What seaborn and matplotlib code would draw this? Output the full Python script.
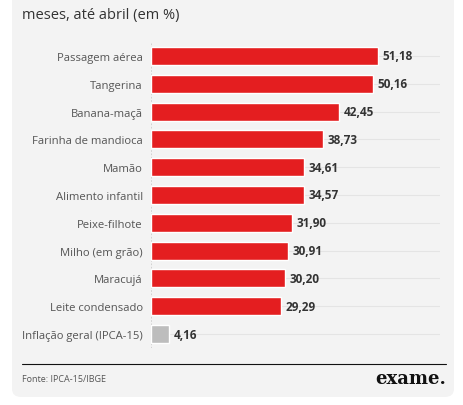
import matplotlib
matplotlib.use("Agg")
import matplotlib.pyplot as plt
import seaborn as sns
import pandas as pd
from matplotlib.patches import FancyBboxPatch

categories = ["Passagem aérea", "Tangerina", "Banana-maçã", "Farinha de mandioca", "Mamão",
              "Alimento infantil", "Peixe-filhote", "Milho (em grão)", "Maracujá",
              "Leite condensado", "Inflação geral (IPCA-15)"]
values = [51.18, 50.16, 42.45, 38.73, 34.61, 34.57, 31.90, 30.91, 30.20, 29.29, 4.16]
labels = ["51,18", "50,16", "42,45", "38,73", "34,61", "34,57", "31,90", "30,91", "30,20", "29,29", "4,16"]
colors = ["#e41e20"] * 10 + ["#bdbdbd"]

sns.set_theme(style="white")
plt.rcParams['font.family'] = ['Open Sans', 'DejaVu Sans']

fig = plt.figure(figsize=(4.64, 4.06), dpi=100)
fig.patch.set_facecolor("white")
panel = FancyBboxPatch((12/464, 8/406), 442/464, 420/406, boxstyle="round,pad=0,rounding_size=0.02",
                       transform=fig.transFigure, facecolor="#f3f3f3", edgecolor="none", zorder=-10)
fig.patches.append(panel)

ax = fig.add_axes([151/464, 1-349/406, 289/464, 306/406])
ax.set_zorder(5)
ax.set_facecolor("none")
df = pd.DataFrame({"cat": categories, "val": values})
for i in range(len(categories)):
    ax.axhline(i, color="#e4e4e4", lw=0.8, zorder=0)
sns.barplot(data=df, x="val", y="cat", hue="cat", palette=colors, legend=False,
            width=0.65, ax=ax, saturation=1, zorder=2)
ax.set_xlim(0, 65.2)
ax.set_ylim(len(categories)-0.5, -0.5)
for i, (v, l) in enumerate(zip(values, labels)):
    ax.text(v + 1.0, i, l, va="center", ha="left", fontsize=8.5, fontweight="bold", color="#333333")
ax.axvline(0, color="#cccccc", lw=0.6, ls=(0, (2, 2)), zorder=1)
for s in ax.spines.values():
    s.set_visible(False)
ax.set_xticks([])
ax.set_xlabel("")
ax.set_ylabel("")
ax.tick_params(axis="y", length=0, labelsize=8.1, labelcolor="#555555", pad=6)

fig.text(22/464, 1-16/406, "meses, até abril (em %)", fontsize=10.5, color="#333333", va="center")
fig.add_artist(plt.Line2D([22/464, 446/464], [1-365/406, 1-365/406], color="#111111", lw=0.8,
                          transform=fig.transFigure))
fig.text(22/464, 1-380/406, "Fonte: IPCA-15/IBGE", fontsize=6.5, color="#555555", va="center")
fig.text(446/464, 1-379/406, "exame.", fontsize=13, fontweight="bold", family="DejaVu Serif",
         color="#111111", va="center", ha="right")

fig.savefig("out.png", dpi=100, facecolor="white")
